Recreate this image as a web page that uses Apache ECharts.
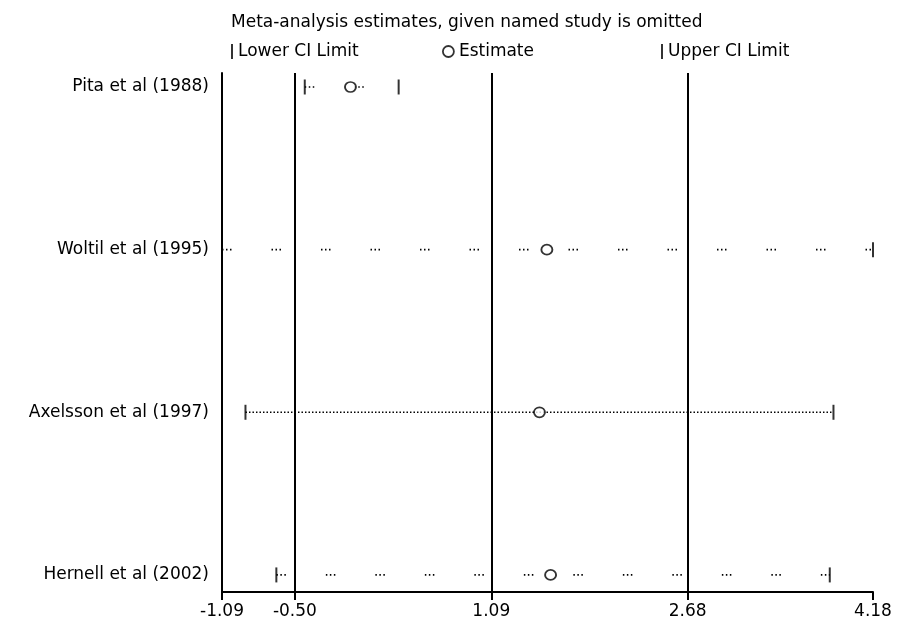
<!DOCTYPE html>
<html>
<head>
<meta charset="utf-8">
<script src="https://cdn.jsdelivr.net/npm/echarts@6/dist/echarts.min.js"></script>
<style>
html,body{margin:0;padding:0;background:#fff;}
#c{width:903px;height:622px;}
</style>
</head>
<body>
<div id="c"></div>
<script>
const studies = ["Pita et al (1988)", "Woltil et al (1995)", "Axelsson et al (1997)", "Hernell et al (2002)"];
const lowerCI = [-0.42, -1.09, -0.90, -0.65];
const estimate = [-0.05, 1.54, 1.48, 1.57];
const upperCI = [0.34, 4.18, 3.86, 3.83];
const xTicks = [-1.09, -0.50, 1.09, 2.68, 4.18];
const refLines = [-0.50, 1.09, 2.68];
const titleText = "Meta-analysis estimates, given named study is omitted";

const FONT = "DejaVu Sans";
const FS = 17;
const sparse = [1.5, 2.5, 1.5, 2.5, 1.5, 40];
const dense = [1.5, 2];
const dashes = [sparse, sparse, dense, sparse];

const chart = echarts.init(document.getElementById('c'), null, {renderer: 'canvas'});

const ciSeries = studies.map((s, i) => ({
  type: 'line',
  name: 'ci' + i,
  data: [[lowerCI[i], i + 1], [upperCI[i], i + 1]],
  showSymbol: false,
  symbol: 'none',
  silent: true,
  z: 2,
  lineStyle: {color: '#000', width: 1.6, type: dashes[i]},
  markLine: i === 0 ? {
    silent: true,
    symbol: ['none', 'none'],
    label: {show: false},
    lineStyle: {color: '#000', width: 2, type: 'solid'},
    data: refLines.map(v => ({xAxis: v}))
  } : undefined
}));

chart.setOption({
  animation: false,
  backgroundColor: '#fff',
  textStyle: {fontFamily: FONT},
  title: {
    text: titleText,
    left: 226,
    top: 9,
    textStyle: {fontFamily: FONT, fontSize: FS, fontWeight: 'normal', color: '#000'}
  },
  legend: [
    {data: ['Lower CI Limit'], left: 226, top: 38, icon: 'rect', itemWidth: 2, itemHeight: 15,
     textStyle: {fontFamily: FONT, fontSize: FS, color: '#000'}},
    {data: ['Estimate'], left: 437, top: 38, icon: 'circle', itemWidth: 11, itemHeight: 11,
     itemStyle: {color: '#fff', borderColor: '#000', borderWidth: 1.8},
     textStyle: {fontFamily: FONT, fontSize: FS, color: '#000'}},
    {data: ['Upper CI Limit'], left: 656, top: 38, icon: 'rect', itemWidth: 2, itemHeight: 15,
     textStyle: {fontFamily: FONT, fontSize: FS, color: '#000'}}
  ],
  grid: {left: 222, right: 30, top: 73, bottom: 30, containLabel: false},
  xAxis: {
    type: 'value',
    min: -1.09,
    max: 4.18,
    axisLine: {show: true, onZero: false, lineStyle: {color: '#000', width: 2}},
    axisTick: {show: true, customValues: xTicks, length: 8, lineStyle: {color: '#000', width: 2}},
    axisLabel: {
      customValues: xTicks,
      formatter: v => v.toFixed(2),
      color: '#000', fontFamily: FONT, fontSize: FS, margin: 11
    },
    splitLine: {show: false}
  },
  yAxis: {
    type: 'value',
    inverse: true,
    min: 0.914,
    max: 4.105,
    axisLine: {show: true, onZero: false, lineStyle: {color: '#000', width: 2}},
    axisTick: {show: false},
    axisLabel: {
      customValues: [1, 2, 3, 4],
      formatter: v => studies[Math.round(v) - 1],
      color: '#000', fontFamily: FONT, fontSize: FS, margin: 13
    },
    splitLine: {show: false}
  },
  series: ciSeries.concat([
    {
      type: 'scatter',
      name: 'Lower CI Limit',
      data: lowerCI.map((v, i) => [v, i + 1]),
      symbol: 'rect',
      symbolSize: [2, 15],
      itemStyle: {color: '#000'},
      z: 4
    },
    {
      type: 'scatter',
      name: 'Upper CI Limit',
      data: upperCI.map((v, i) => [v, i + 1]),
      symbol: 'rect',
      symbolSize: [2, 15],
      itemStyle: {color: '#000'},
      z: 4
    },
    {
      type: 'scatter',
      name: 'Estimate',
      data: estimate.map((v, i) => [v, i + 1]),
      symbol: 'circle',
      symbolSize: [11, 10],
      itemStyle: {color: '#fff', borderColor: '#000', borderWidth: 1.8},
      z: 5
    }
  ])
});
</script>
</body>
</html>
